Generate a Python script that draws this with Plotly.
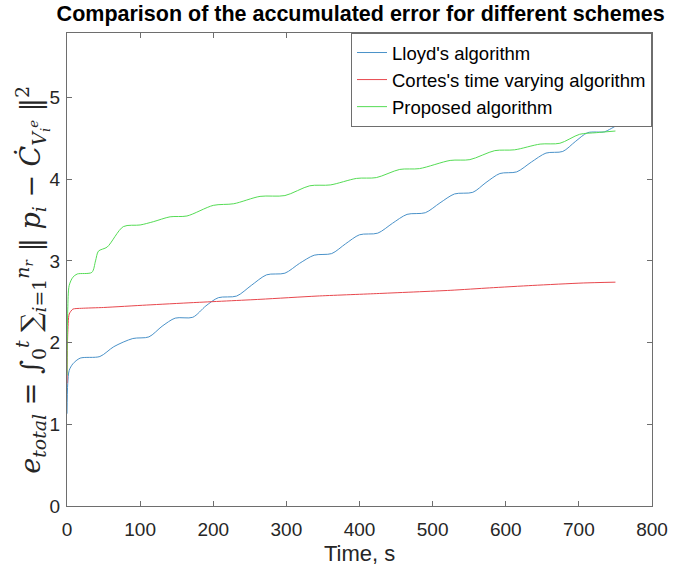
import plotly.graph_objects as go

# Lloyd's algorithm (blue)
lloyd_t = [0, 1, 3, 8, 18, 45, 64, 90, 112, 130, 148, 172, 190, 207, 232, 252, 273, 298, 318, 338, 362, 381, 400, 425, 445, 465, 490, 510, 530, 555, 573, 592, 615, 635, 655, 678, 695, 712, 735, 742, 750]
lloyd_v = [1.13, 1.5, 1.66, 1.74, 1.81, 1.83, 1.95, 2.05, 2.07, 2.2, 2.30, 2.31, 2.45, 2.55, 2.57, 2.7, 2.83, 2.85, 2.97, 3.07, 3.09, 3.21, 3.32, 3.34, 3.46, 3.57, 3.59, 3.71, 3.82, 3.84, 3.96, 4.07, 4.09, 4.21, 4.32, 4.34, 4.46, 4.57, 4.58, 4.61, 4.65]

# Cortes's time varying algorithm (red)
cortes_t = [0, 1, 3, 8, 20, 50, 109, 173, 264, 342, 423, 524, 578, 637, 706, 750]
cortes_v = [1.5, 2.1, 2.35, 2.41, 2.42, 2.43, 2.46, 2.49, 2.53, 2.57, 2.60, 2.64, 2.67, 2.70, 2.73, 2.74]

# Proposed algorithm (green)
proposed_t = [0, 1, 3, 8, 14, 34, 39, 43, 55, 77, 100, 118, 141, 164, 200, 228, 264, 298, 332, 360, 396, 423, 455, 482, 524, 551, 585, 612, 647, 674, 701, 724, 750]
proposed_v = [1.6, 2.4, 2.7, 2.80, 2.84, 2.86, 3.0, 3.12, 3.17, 3.42, 3.44, 3.48, 3.54, 3.55, 3.68, 3.70, 3.79, 3.80, 3.92, 3.93, 4.01, 4.02, 4.12, 4.13, 4.23, 4.24, 4.35, 4.36, 4.43, 4.44, 4.55, 4.57, 4.59]

x_ticks = [0, 100, 200, 300, 400, 500, 600, 700, 800]
y_ticks = [0, 1, 2, 3, 4, 5]

fig = go.Figure()
fig.add_trace(go.Scatter(x=lloyd_t, y=lloyd_v, mode="lines", name="Lloyd's algorithm",
                         line=dict(color="#4a92c9", width=1, shape="spline", smoothing=0.8)))
fig.add_trace(go.Scatter(x=cortes_t, y=cortes_v, mode="lines", name="Cortes's time varying algorithm",
                         line=dict(color="#e8474d", width=1, shape="spline", smoothing=0.6)))
fig.add_trace(go.Scatter(x=proposed_t, y=proposed_v, mode="lines", name="Proposed algorithm",
                         line=dict(color="#55dc55", width=1, shape="spline", smoothing=0.8)))

axis_common = dict(showline=True, linecolor="#6e6e6e", linewidth=1, mirror="ticks",
                   ticks="inside", ticklen=5, tickcolor="#6e6e6e", showgrid=False, zeroline=False,
                   tickfont=dict(family="Liberation Sans, Arial", size=19, color="#262626"))

fig.update_layout(
    width=687, height=572,
    margin=dict(l=67, r=35, t=33, b=66),
    paper_bgcolor="white", plot_bgcolor="white",
    title=dict(text="<b>Comparison of the accumulated error for different schemes</b>",
               x=0.525, xanchor="center", y=0.976, yanchor="middle",
               font=dict(family="Liberation Sans, Arial", size=21.5, color="black")),
    xaxis=dict(range=[0, 800], tickvals=x_ticks, ticklabelstandoff=6, **axis_common),
    yaxis=dict(range=[0, 5.79], tickvals=y_ticks, ticklabelstandoff=2, **axis_common),
    legend=dict(x=1, y=1, xanchor="right", yanchor="top", bgcolor="white",
                bordercolor="#6e6e6e", borderwidth=1, tracegroupgap=0,
                font=dict(family="Liberation Sans, Arial", size=18.5, color="black"),
                itemwidth=30),
    showlegend=True,
)

fig.add_annotation(text="Time, s", xref="paper", yref="paper", x=0.5, y=-0.1,
                   xanchor="center", yanchor="middle", yshift=0, showarrow=False,
                   font=dict(family="Liberation Sans, Arial", size=22, color="#262626"))

ylabel = ("<i>e</i><sub><i>total</i></sub> = ∫<sub>0</sub><sup><i>t</i></sup> "
          "∑<sub><i>i</i>=1</sub><sup><i>n<sub>r</sub></i></sup> ‖ <i>p</i><sub><i>i</i></sub> − "
          "<i>Ċ</i><sub><i>V<sub>i</sub><sup>e</sup></i></sub> ‖<sup>2</sup>")
fig.add_annotation(text=ylabel, xref="paper", yref="paper", x=-0.06, y=0.478,
                   xanchor="center", yanchor="middle", textangle=-90, showarrow=False,
                   font=dict(family="DejaVu Serif, Liberation Serif", size=27, color="#262626"))

fig.write_html("out.html")
